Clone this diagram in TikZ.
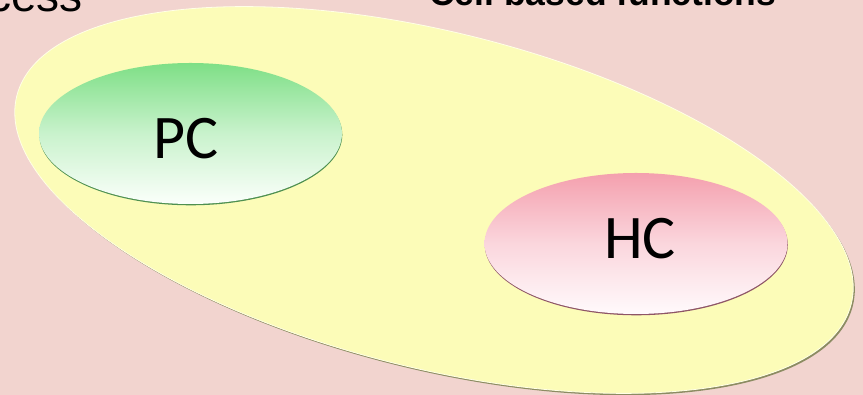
\documentclass[tikz,border=0pt]{standalone}
\usepackage{fontspec}
\usetikzlibrary{shapes.geometric}
\newfontfamily\calfont{Carlito}
\newfontfamily\arfont{Liberation Sans}
\definecolor{bg}{HTML}{F2D4CF}
\definecolor{cellfill}{HTML}{FCFCB8}
\definecolor{cellrim}{HTML}{FFFFE6}
\definecolor{cellshadow}{HTML}{8C8C62}
\definecolor{pctop}{HTML}{7EDF86}
\definecolor{pcbot}{HTML}{FBFFFB}
\definecolor{pcedge}{HTML}{4E9050}
\definecolor{hctop}{HTML}{F4A0AE}
\definecolor{hcbot}{HTML}{FFFAFC}
\definecolor{hcedge}{HTML}{8E5566}
\tikzset{
  x=1pt, y=1pt,
  bigcell/.style={ellipse, inner sep=0pt, minimum width=860pt, minimum height=336pt,
    rotate=-14, fill=cellfill, draw=cellrim, line width=0.8pt,
    preaction={fill=cellshadow, transform canvas={shift={(1.6pt,-1.8pt)}}}},
  subcell/.style={ellipse, inner sep=0pt, minimum width=303pt, minimum height=141pt},
  celltext/.style={font=\calfont\fontsize{62}{62}\selectfont, inner sep=0pt},
  headtext/.style={inner sep=0pt, text=black}
}
\begin{document}
\begin{tikzpicture}
\useasboundingbox (0,0) rectangle (863,395);
\fill[bg] (0,0) rectangle (863,395);
% headings (cut off at the top)
\node[headtext, anchor=base east, font=\arfont\fontsize{46}{46}\selectfont] (access) at (83,383) {Access};
\node[headtext, anchor=base west, font=\arfont\bfseries\fontsize{35.5}{35.5}\selectfont] (cellfun) at (429,389.5) {Cell based functions};
% big cell
\node[bigcell] (cell) at (434,195) {};
% PC
\node[subcell, top color=pctop, bottom color=pcbot, middle color=pctop!40!pcbot,
  preaction={fill=pcedge, transform canvas={shift={(0.3pt,-1.3pt)}}}] (pc) at (190.5,261.5) {};
\node[celltext] (pctext) at ([shift={(-4.5,-5.5)}]pc.center) {PC};
% HC
\node[subcell, top color=hctop, bottom color=hcbot, middle color=hctop!40!hcbot,
  preaction={fill=hcedge, transform canvas={shift={(0.3pt,-1.3pt)}}}] (hc) at (636,151.5) {};
\node[celltext] (hctext) at ([shift={(4,5)}]hc.center) {HC};
\end{tikzpicture}
\end{document}
